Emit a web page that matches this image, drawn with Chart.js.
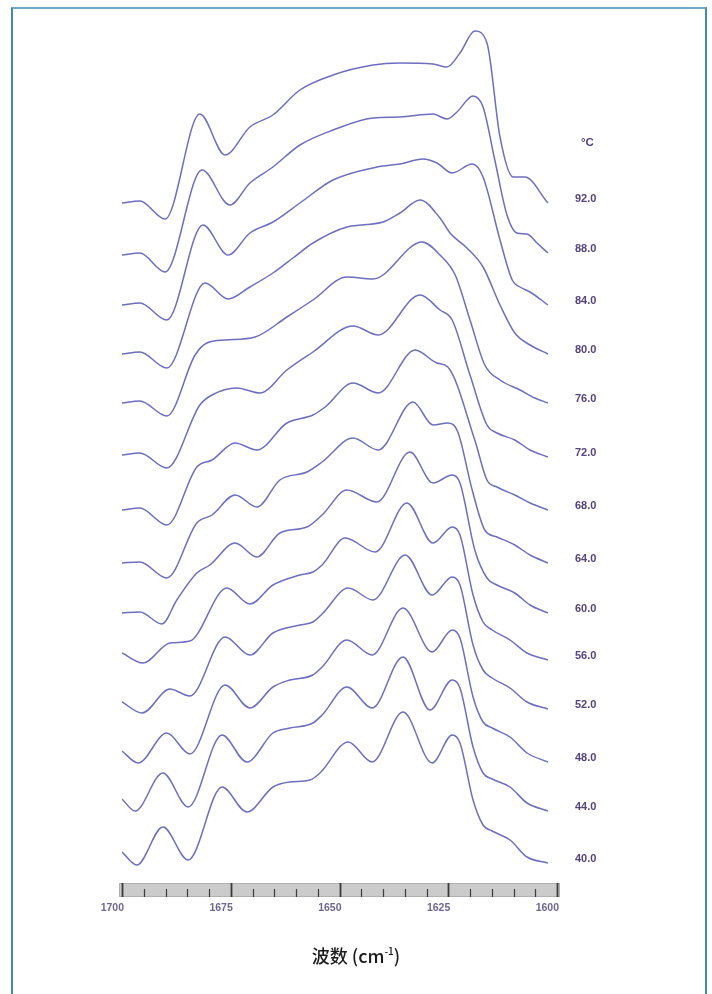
<!DOCTYPE html>
<html>
<head>
<meta charset="utf-8">
<script src="https://cdn.jsdelivr.net/npm/chart.js@4.4.1/dist/chart.umd.min.js"></script>
<style>
  html, body { margin:0; padding:0; background:#fff; }
  #wrap { position:relative; width:712px; height:994px; overflow:hidden; }
  #frame { position:absolute; left:11px; top:7px; width:692px; height:1000px;
           border-left:2px solid #3f8cab; border-right:2px solid #3f8cab; border-top:2px solid #6fa7bf; }
  #c { position:absolute; left:0; top:0; }
  #xtitle { position:absolute; left:0; width:712px; top:942px; text-align:center;
            font-family:"Noto Sans CJK SC","Noto Sans",sans-serif; font-size:18px; font-weight:500; color:#1a1a1a; }
  #xtitle sup { font-size:10px; vertical-align:8px; line-height:0; }
</style>
</head>
<body>
<div id="wrap">
  <div id="frame"></div>
  <canvas id="c" width="712" height="994"></canvas>
  <div id="xtitle">波数 (cm<sup>-1</sup>)</div>
</div>
<script>
// Wavenumber axis (cm-1), reversed
const axisMin = 1600, axisMax = 1700;
const majorTicks = [1700, 1675, 1650, 1625, 1600];
const minorStep = 5;
const tempLabels = ['92.0','88.0','84.0','80.0','76.0','72.0','68.0','64.0','60.0','56.0','52.0','48.0','44.0','40.0'];
const unitLabel = '°C';

// Stacked spectra: [wavenumber, offset absorbance (arb. units)]
const t92 = [[1700,697],[1695.9,699],[1690.1,681],[1682.1,786],[1676.3,745],[1670.6,773],[1665.3,785],[1659.1,810],[1651.5,825],[1642.3,835],[1636.1,837],[1628.5,836],[1625.3,833],[1622.3,847],[1618.9,869],[1616.1,857],[1613.1,763],[1610.1,723],[1607.4,723],[1602.1,697]];
const t88 = [[1700,645],[1695.9,647],[1690.1,628],[1681.6,730],[1675.2,695],[1670.6,717],[1665.3,733],[1659.1,755],[1651.5,770],[1642.3,782],[1636.1,783],[1628.5,786],[1625.3,781],[1623.0,788],[1619.3,804],[1617.0,793],[1614.3,740],[1611.5,685],[1609.2,667],[1606.9,666],[1604.6,657],[1602.1,647]];
const t84 = [[1700,595],[1695.9,597],[1689.7,580],[1681.4,675],[1675.6,645],[1670.6,667],[1665.3,678],[1659.1,697],[1651.5,720],[1641.4,733],[1636.1,736],[1630.8,741],[1627.6,737],[1624.1,727],[1619.5,736],[1617.0,723],[1613.1,660],[1610.3,620],[1608.5,613],[1606.2,608],[1602.1,595]];
const t80 = [[1700,546],[1695.9,548],[1689.7,532],[1680.9,617],[1675.6,601],[1670.6,613],[1665.3,627],[1660.7,642],[1656.1,657],[1648.3,673],[1640.0,678],[1636.1,687],[1631.5,700],[1626.9,682],[1624.6,667],[1620.7,652],[1617.0,633],[1613.1,595],[1609.7,567],[1606.2,555],[1602.1,546]];
const t76 = [[1700,497],[1695.9,499],[1689.7,484],[1683.2,545],[1680.5,557],[1676.3,560],[1669.4,563],[1662.1,583],[1656.1,600],[1648.3,623],[1642.3,621],[1631.0,658],[1626.9,645],[1623.4,625],[1620.0,580],[1616.6,535],[1613.1,520],[1608.5,510],[1605.1,502],[1602.1,497]];
const t72 = [[1700,445],[1695.9,447],[1689.7,432],[1682.1,495],[1679.3,505],[1673.6,512],[1668.3,507],[1662.1,530],[1656.1,548],[1646.9,574],[1641.1,565],[1631.5,605],[1626.9,590],[1624.1,580],[1620.0,525],[1616.1,475],[1613.8,467],[1609.7,460],[1606.2,450],[1602.1,443]];
const t68 = [[1700,390],[1695.9,392],[1689.7,375],[1682.8,433],[1679.3,440],[1674.0,457],[1669.0,450],[1662.1,477],[1656.1,485],[1653.3,493],[1646.9,517],[1641.1,507],[1632.6,550],[1627.6,537],[1625.1,533],[1618.9,460],[1616.1,420],[1613.8,413],[1609.7,405],[1606.2,397],[1602.1,390]];
const t64 = [[1700,337],[1695.9,338],[1689.7,322],[1682.8,377],[1679.3,385],[1674.0,405],[1669.0,393],[1663.7,420],[1657.5,428],[1654.0,438],[1646.9,462],[1641.1,450],[1633.1,498],[1628.5,475],[1625.1,477],[1622.8,468],[1619.5,410],[1616.6,370],[1613.8,363],[1609.7,355],[1606.2,345],[1602.1,337]];
const t60 = [[1700,287],[1695.9,288],[1690.8,276],[1687.4,300],[1682.8,327],[1679.8,335],[1674.0,357],[1669.0,343],[1663.7,367],[1657.5,373],[1654.0,385],[1648.3,410],[1641.4,398],[1633.8,448],[1628.5,417],[1624.1,425],[1622.3,417],[1618.9,350],[1616.1,322],[1613.8,315],[1609.7,307],[1606.2,295],[1602.1,287]];
const t56 = [[1700,247],[1695.2,237],[1689.0,257],[1684.4,259],[1675.9,312],[1670.6,296],[1665.3,315],[1659.1,325],[1656.1,328],[1654.0,335],[1648.7,362],[1641.8,348],[1634.5,397],[1628.5,357],[1624.1,373],[1622.3,365],[1619.3,305],[1617.0,278],[1614.9,270],[1610.8,260],[1606.9,247],[1602.1,240]];
const t52 = [[1700,198],[1695.4,187],[1689.0,211],[1684.4,204],[1676.3,263],[1670.6,245],[1665.3,267],[1659.1,275],[1656.1,278],[1654.0,286],[1648.0,312],[1642.3,300],[1634.9,345],[1628.7,305],[1624.1,323],[1622.3,315],[1619.3,255],[1617.0,230],[1614.9,222],[1610.8,212],[1606.9,198],[1602.1,191]];
const t48 = [[1700,149],[1696.3,137],[1689.7,167],[1684.4,146],[1676.3,215],[1670.6,192],[1665.3,213],[1661.4,220],[1656.1,225],[1654.0,233],[1648.3,260],[1642.5,245],[1635.4,292],[1628.7,248],[1624.1,270],[1622.3,262],[1619.3,203],[1617.0,178],[1614.9,172],[1610.8,163],[1606.9,147],[1602.1,138]];
const t44 = [[1700,101],[1697.0,89],[1690.6,127],[1684.8,93],[1677.0,165],[1671.3,138],[1665.3,167],[1661.4,172],[1656.1,177],[1654.0,185],[1648.3,213],[1642.5,192],[1635.4,243],[1629.2,190],[1624.1,220],[1622.3,212],[1619.3,153],[1617.0,127],[1614.9,121],[1610.8,113],[1606.9,97],[1602.1,89]];
const t40 = [[1700,48],[1696.6,35],[1690.6,73],[1684.8,40],[1677.0,113],[1671.3,88],[1665.3,113],[1661.4,118],[1656.8,120],[1654.5,127],[1648.0,158],[1642.5,138],[1635.4,188],[1628.7,137],[1624.1,165],[1622.3,157],[1619.3,100],[1617.0,75],[1614.9,69],[1610.8,60],[1606.9,43],[1602.1,37]];

const series = [t92,t88,t84,t80,t76,t72,t68,t64,t60,t56,t52,t48,t44,t40];

const lineColor = '#6d6ebf';

const axisPlugin = {
  id: 'spectraAxis',
  afterDraw(chart) {
    const ctx = chart.ctx;
    const xs = chart.scales.x;
    const x0 = xs.getPixelForValue(axisMax), x1 = xs.getPixelForValue(axisMin);
    const barTop = 883, barBot = 897;
    ctx.save();
    ctx.fillStyle = '#cbcbcb';
    ctx.fillRect(x0 - 3, barTop, (x1 - x0) + 6, barBot - barTop);
    ctx.strokeStyle = '#b0b0b0';
    ctx.lineWidth = 1;
    ctx.strokeRect(x0 - 2.5, barTop + 0.5, (x1 - x0) + 5, barBot - barTop - 1);
    ctx.strokeStyle = '#3a3a3a';
    for (let v = axisMin; v <= axisMax; v += minorStep) {
      const px = Math.round(xs.getPixelForValue(v)) + 0.5;
      const major = majorTicks.includes(v);
      ctx.lineWidth = major ? 1.8 : 1.2;
      ctx.beginPath();
      ctx.moveTo(px, major ? barTop : barTop + 6);
      ctx.lineTo(px, barBot);
      ctx.stroke();
    }
    ctx.fillStyle = '#6f6690';
    ctx.font = 'bold 10.5px "Liberation Sans", Arial, sans-serif';
    ctx.textAlign = 'right';
    ctx.textBaseline = 'middle';
    majorTicks.forEach(v => {
      ctx.fillText(String(v), xs.getPixelForValue(v) + 2, 908);
    });
    // temperature labels at the right end of each spectrum
    ctx.fillStyle = '#55437e';
    ctx.font = 'bold 11px "Liberation Sans", Arial, sans-serif';
    ctx.textAlign = 'left';
    chart.data.datasets.forEach((ds, i) => {
      const meta = chart.getDatasetMeta(i);
      const last = meta.data[meta.data.length - 1];
      ctx.fillText(tempLabels[i], 575, last.y - 4);
    });
    ctx.font = 'bold 11.5px "Liberation Sans", Arial, sans-serif';
    ctx.fillText(unitLabel, 581, 143);
    ctx.restore();
  }
};

new Chart(document.getElementById('c'), {
  type: 'line',
  data: {
    datasets: series.map((s, i) => ({
      label: tempLabels[i],
      data: s.map(([x, y]) => ({ x, y })),
      borderColor: lineColor,
      borderWidth: 1.5,
      pointRadius: 0,
      fill: false,
      cubicInterpolationMode: 'monotone'
    }))
  },
  options: {
    responsive: false,
    animation: false,
    layout: { padding: { left: 122, right: 155, top: 0, bottom: 94 } },
    plugins: { legend: { display: false }, tooltip: { enabled: false } },
    scales: {
      x: { type: 'linear', min: axisMin, max: axisMax, reverse: true, display: false },
      y: { type: 'linear', min: 0, max: 900, display: false }
    }
  },
  plugins: [axisPlugin]
});
</script>
</body>
</html>
